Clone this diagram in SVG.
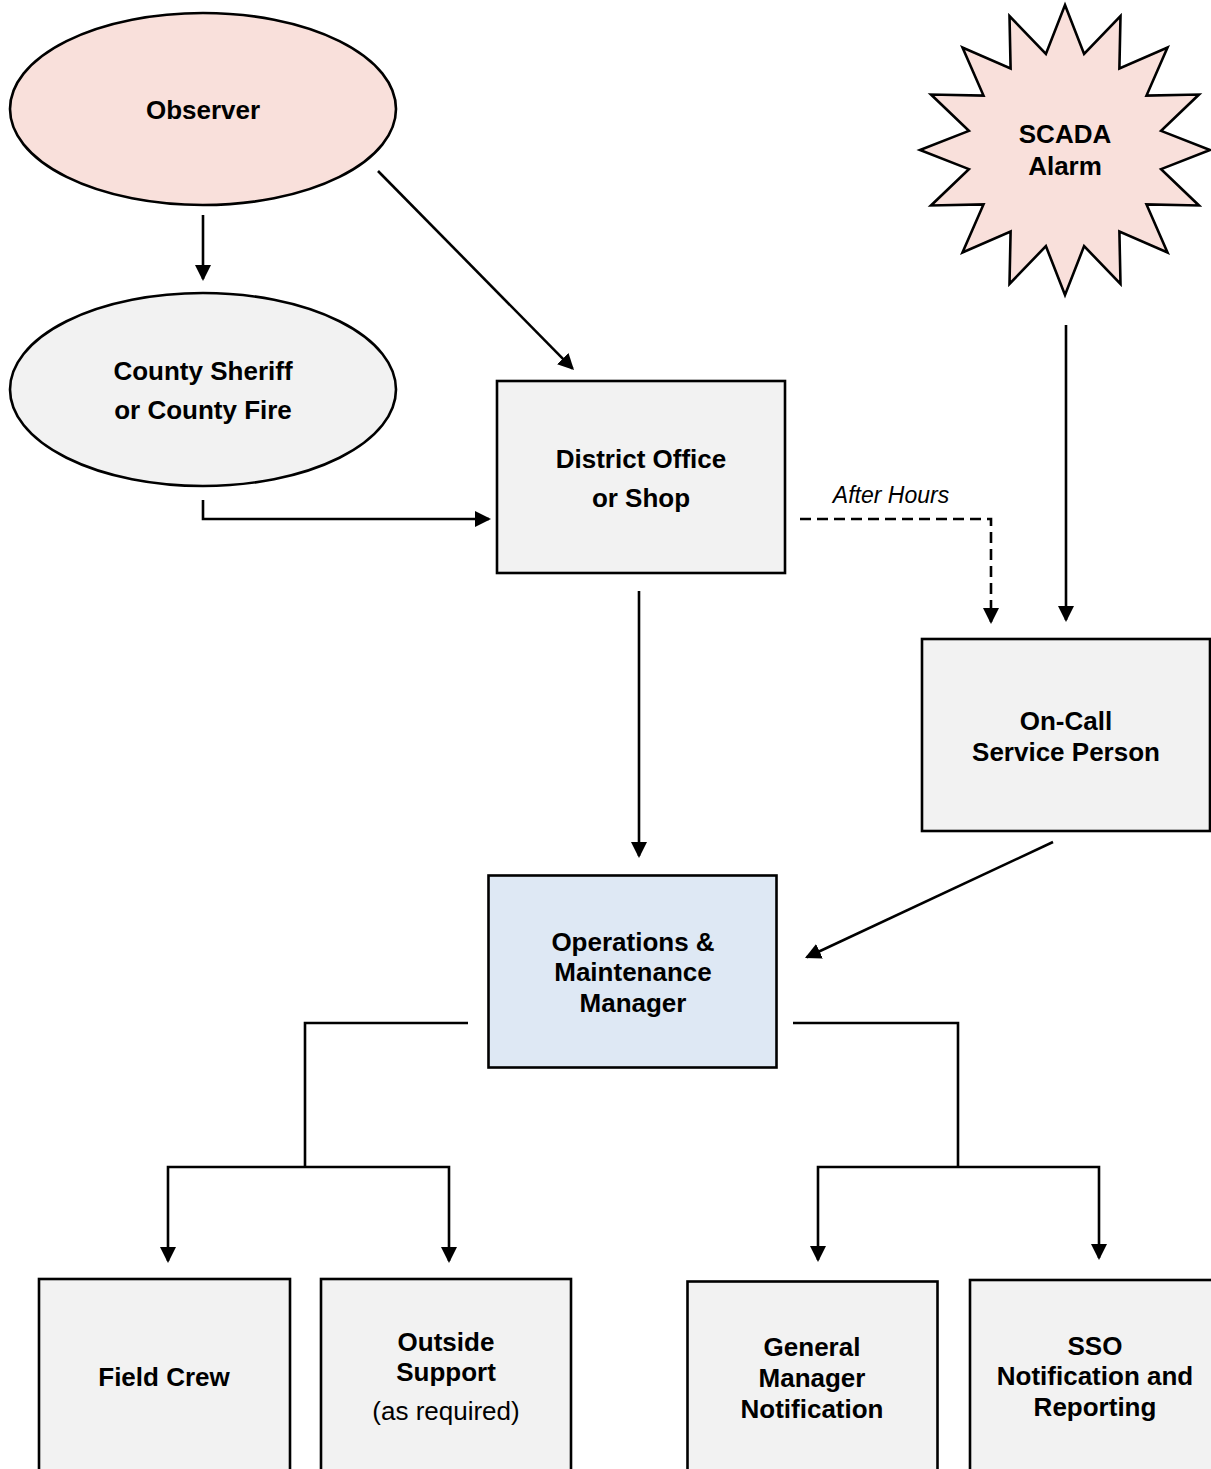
<svg xmlns="http://www.w3.org/2000/svg" width="1211" height="1469" viewBox="0 0 1211 1469">
<style>
.shape{stroke:#000;stroke-width:2.6}
.pink{fill:#f9e0db}
.grey{fill:#f2f2f2}
.blue{fill:#dee8f4}
.t{font-family:"Liberation Sans",Arial,sans-serif;font-weight:bold;font-size:26px;text-anchor:middle;fill:#000}
.r{font-weight:normal}
.it{font-family:"Liberation Sans",Arial,sans-serif;font-style:italic;font-size:23px;text-anchor:middle;fill:#000}
.c{fill:none;stroke:#000;stroke-width:2.6;marker-end:url(#ah)}
.n{fill:none;stroke:#000;stroke-width:2.6}
.d{stroke-dasharray:11 6}
</style>
<defs>
<marker id="ah" viewBox="0 0 16 16" markerWidth="16" markerHeight="16" refX="14" refY="8" orient="auto" markerUnits="userSpaceOnUse">
<path d="M0,0 L16,8 L0,16 Z" fill="#000"/>
</marker>
</defs>
<rect width="1211" height="1469" fill="#fff"/>

<g id="observer">
<ellipse class="shape pink" cx="203" cy="109" rx="193" ry="96"/>
<text class="t" x="203" y="119">Observer</text>
</g>
<g id="sheriff">
<ellipse class="shape grey" cx="203" cy="389.5" rx="193" ry="96.5"/>
<text class="t" x="203" y="380">County Sheriff</text>
<text class="t" x="203" y="419">or County Fire</text>
</g>
<g id="district">
<rect class="shape grey" x="497" y="381" width="288" height="192"/>
<text class="t" x="641" y="468">District Office</text>
<text class="t" x="641" y="507">or Shop</text>
</g>
<g id="scada">
<polygon class="shape pink" points="1065,5 1084.1,53.9 1120.5,16 1119.4,68.5 1167.5,47.5 1146.5,95.6 1199,94.5 1161.1,130.9 1210,150 1161.1,169.1 1199,205.5 1146.5,204.4 1167.5,252.5 1119.4,231.5 1120.5,284 1084.1,246.1 1065,295 1045.9,246.1 1009.5,284 1010.6,231.5 962.5,252.5 983.5,204.4 931,205.5 968.9,169.1 920,150 968.9,130.9 931,94.5 983.5,95.6 962.5,47.5 1010.6,68.5 1009.5,16 1045.9,53.9"/>
<text class="t" x="1065" y="143">SCADA</text>
<text class="t" x="1065" y="175">Alarm</text>
</g>
<g id="oncall">
<rect class="shape grey" x="922" y="639" width="288" height="192"/>
<text class="t" x="1066" y="730">On-Call</text>
<text class="t" x="1066" y="761">Service Person</text>
</g>
<g id="om">
<rect class="shape blue" x="488.5" y="875.5" width="288" height="192"/>
<text class="t" x="633" y="951">Operations &amp;</text>
<text class="t" x="633" y="981">Maintenance</text>
<text class="t" x="633" y="1012">Manager</text>
</g>
<g id="fieldcrew">
<rect class="shape grey" x="39" y="1279" width="251" height="210"/>
<text class="t" x="164" y="1386">Field Crew</text>
</g>
<g id="outside">
<rect class="shape grey" x="321" y="1279" width="250" height="210"/>
<text class="t" x="446" y="1351">Outside</text>
<text class="t" x="446" y="1381">Support</text>
<text class="t r" x="446" y="1420">(as required)</text>
</g>
<g id="gm">
<rect class="shape grey" x="687.5" y="1281.5" width="250" height="210"/>
<text class="t" x="812" y="1356">General</text>
<text class="t" x="812" y="1387">Manager</text>
<text class="t" x="812" y="1418">Notification</text>
</g>
<g id="sso">
<rect class="shape grey" x="970" y="1280" width="260" height="210"/>
<text class="t" x="1095" y="1355">SSO</text>
<text class="t" x="1095" y="1385">Notification and</text>
<text class="t" x="1095" y="1416">Reporting</text>
</g>

<g id="connectors">
<path class="c" d="M203,215 L203,279"/>
<path class="c" d="M378,171 L572.6,368.6"/>
<path class="c" d="M203,500 L203,519 L489,519"/>
<path class="c" d="M639,591 L639,856"/>
<path class="c d" d="M800,519 L991,519 L991,622"/>
<text class="it" x="891" y="503">After Hours</text>
<path class="c" d="M1066,325 L1066,620"/>
<path class="c" d="M1053,842 L806.8,957.2"/>
<path class="n" d="M468,1023 L305,1023 L305,1167"/>
<path class="c" d="M305,1167 L168,1167 L168,1261"/>
<path class="c" d="M305,1167 L449,1167 L449,1261"/>
<path class="n" d="M793,1023 L958,1023 L958,1167"/>
<path class="c" d="M958,1167 L818,1167 L818,1260"/>
<path class="c" d="M958,1167 L1099,1167 L1099,1258"/>
</g>
</svg>
